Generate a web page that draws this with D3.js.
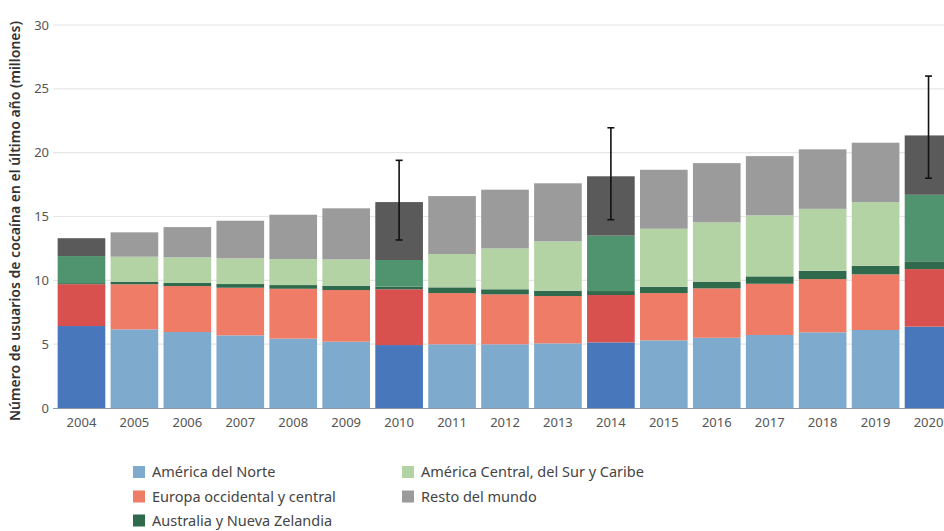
<!DOCTYPE html>
<html><head><meta charset="utf-8">
<script src="https://cdn.jsdelivr.net/npm/d3@7"></script>
<style>body{margin:0;background:#fff;} svg{display:block;font-family:"Noto Sans",sans-serif;}</style>
</head><body>
<svg id="c" width="944" height="531"></svg>
<script>
const years = ["2004","2005","2006","2007","2008","2009","2010","2011","2012","2013","2014","2015","2016","2017","2018","2019","2020"];
const highlightYears = ["2004","2010","2014","2020"];
const seriesNames = ["América del Norte","Europa occidental y central","Australia y Nueva Zelandia","América Central, del Sur y Caribe","Resto del mundo"];
const northAmerica = [6.42,6.16,5.95,5.69,5.43,5.19,4.93,4.99,4.99,5.06,5.14,5.30,5.50,5.72,5.93,6.11,6.37];
const westernEurope = [3.28,3.53,3.60,3.73,3.91,4.05,4.37,4.01,3.91,3.71,3.71,3.70,3.87,4.01,4.17,4.36,4.51];
const australiaNZ = [0.08,0.21,0.24,0.29,0.29,0.34,0.20,0.45,0.40,0.42,0.31,0.50,0.53,0.58,0.65,0.67,0.61];
const latinAmerica = [2.12,1.95,2.01,2.01,2.04,2.06,2.09,2.61,3.20,3.86,4.34,4.54,4.64,4.78,4.85,4.99,5.21];
const restOfWorld = [1.40,1.91,2.37,2.95,3.47,4.00,4.54,4.54,4.60,4.55,4.65,4.62,4.64,4.64,4.66,4.65,4.65];
const errorYears = ["2010","2014","2020"];
const errorLow = [13.16,14.75,18.0];
const errorHigh = [19.4,21.95,26.0];
const yTicks = [0,5,10,15,20,25,30];

const colorsNormal = ["#7eabcd","#ee7c66","#2f6a4c","#b4d3a5","#9b9b9b"];
const colorsHighlight = ["#4877bb","#d9514f","#2f6a4c","#4f946e","#5a5a5a"];

const svg = d3.select("#c");
const keys = ["na","we","au","la","rw"];
const table = years.map((y,i)=>({year:y,na:northAmerica[i],we:westernEurope[i],au:australiaNZ[i],la:latinAmerica[i],rw:restOfWorld[i]}));
const stack = d3.stack().keys(keys)(table);

const x = d3.scaleBand().domain(years).range([55, 955]).paddingInner(0.1).paddingOuter(0.05);
const y = d3.scaleLinear().domain([0,30]).range([408,25]);

// grid
svg.append("g").selectAll("line").data(yTicks.filter(t=>t>0)).join("line")
  .attr("x1",53).attr("x2",944).attr("y1",d=>y(d)).attr("y2",d=>y(d))
  .attr("stroke","#e6e6e6").attr("stroke-width",1.2);

// bars
stack.forEach((s,si)=>{
  svg.append("g").selectAll("rect").data(s).join("rect")
    .attr("x",d=>x(d.data.year)).attr("width",x.bandwidth())
    .attr("y",d=>y(d[1])).attr("height",d=>y(d[0])-y(d[1]))
    .attr("fill",d=>highlightYears.includes(d.data.year)?colorsHighlight[si]:colorsNormal[si]);
});

// baseline
svg.append("line").attr("x1",53).attr("x2",944).attr("y1",y(0)+0.5).attr("y2",y(0)+0.5)
  .attr("stroke","#8d9aab").attr("stroke-width",1.2);

// error bars
const eg = svg.append("g").attr("stroke","#111").attr("stroke-width",1.6);
errorYears.forEach((yr,i)=>{
  const cx = x(yr)+x.bandwidth()/2;
  eg.append("line").attr("x1",cx).attr("x2",cx).attr("y1",y(errorLow[i])).attr("y2",y(errorHigh[i]));
  eg.append("line").attr("x1",cx-3.5).attr("x2",cx+3.5).attr("y1",y(errorLow[i])).attr("y2",y(errorLow[i]));
  eg.append("line").attr("x1",cx-3.5).attr("x2",cx+3.5).attr("y1",y(errorHigh[i])).attr("y2",y(errorHigh[i]));
});

// y tick labels
svg.append("g").selectAll("text").data(yTicks).join("text")
  .attr("x",49).attr("y",d=>y(d)).attr("dy","0.35em").attr("text-anchor","end")
  .attr("font-size",13).attr("fill","#555").text(d=>d);

// x labels
svg.append("g").selectAll("text").data(years).join("text")
  .attr("x",d=>x(d)+x.bandwidth()/2).attr("y",427).attr("text-anchor","middle")
  .attr("font-size",13).attr("fill","#555").text(d=>d);

// y title
svg.append("text").attr("transform","translate(20,221) rotate(-90)")
  .attr("text-anchor","middle").attr("font-size",14).attr("font-weight",600).attr("fill","#333")
  .text("Número de usuarios de cocaína en el último año (millones)");

// legend
const legendOrder = [[0,133,472],[1,133,496.5],[2,133,520.5],[3,402,472],[4,402,496.5]];
const lg = svg.append("g");
legendOrder.forEach(([si,lx,ly])=>{
  lg.append("rect").attr("x",lx).attr("y",ly-6).attr("width",12).attr("height",12).attr("fill",colorsNormal[si]);
  lg.append("text").attr("x",lx+19).attr("y",ly).attr("dy","0.35em").attr("font-size",14.5).attr("fill","#444").text(seriesNames[si]);
});
</script>
</body></html>
